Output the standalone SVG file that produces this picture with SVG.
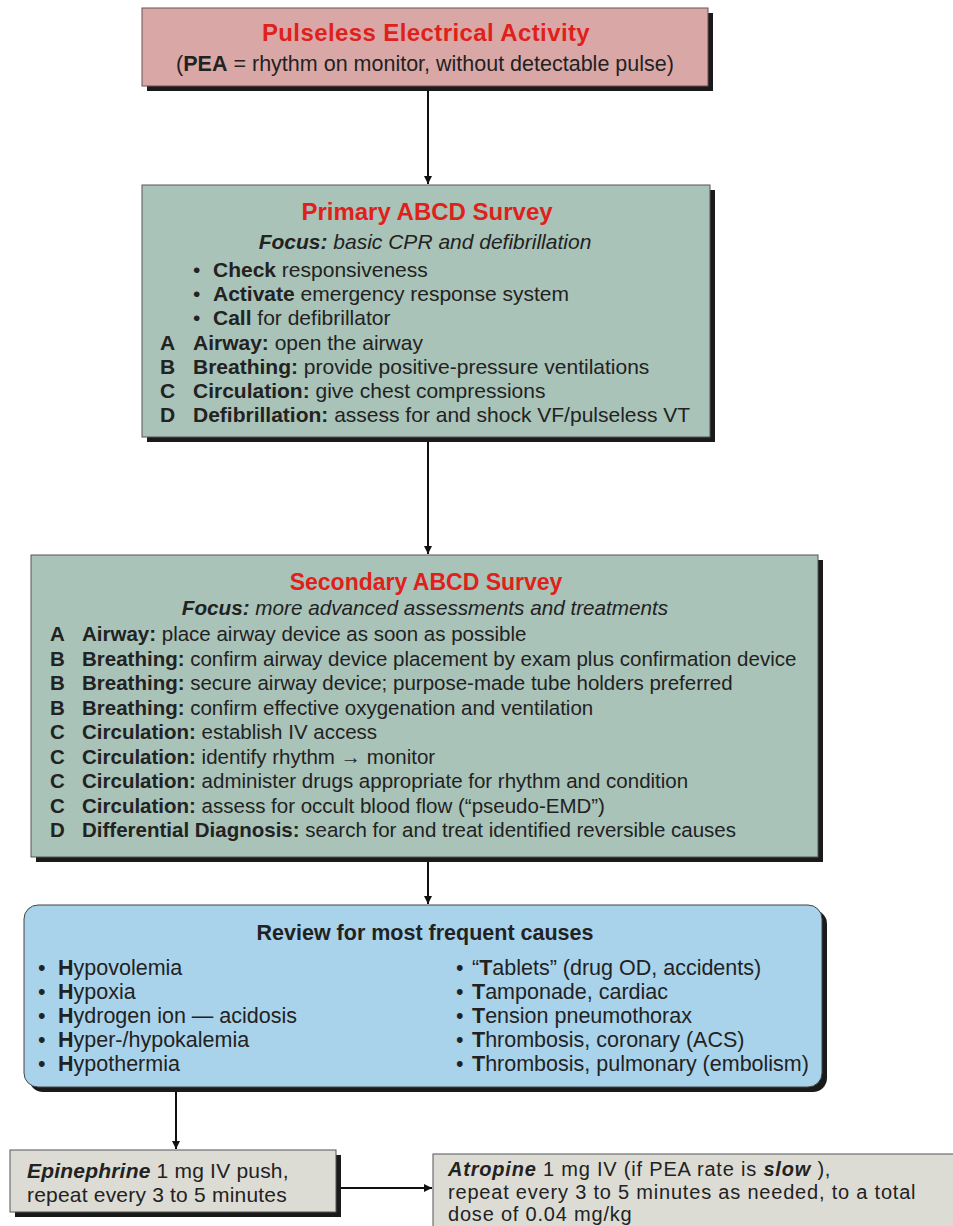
<svg xmlns="http://www.w3.org/2000/svg" width="953" height="1226" viewBox="0 0 953 1226">
<style>
text{font-family:"Liberation Sans",Arial,sans-serif;fill:#222;}
.t{font-weight:bold;fill:#e0201b;text-anchor:middle;}
.b{font-weight:bold;}
.i{font-style:italic;}
.c{text-anchor:middle;}
.p{font-size:21px;}
.s{font-size:20.5px;}
.r{font-size:21.5px;}
.shadow{fill:#1a1a1a;}
.con{stroke:#111;stroke-width:2;fill:none;marker-end:url(#ah);}
</style>
<defs>
<marker id="ah" viewBox="0 0 10 10" refX="10" refY="5" markerWidth="8" markerHeight="8" markerUnits="userSpaceOnUse" orient="auto"><path d="M0,0 L10,5 L0,10 z" fill="#111"/></marker>
</defs>
<rect width="953" height="1226" fill="#ffffff"/>

<g id="connectors">
<line class="con" x1="428" y1="90" x2="428" y2="184"/>
<line class="con" x1="428" y1="442" x2="428" y2="554"/>
<line class="con" x1="428" y1="862" x2="428" y2="904"/>
<line class="con" x1="176" y1="1092" x2="176" y2="1149"/>
<line class="con" x1="341" y1="1188" x2="432" y2="1188"/>
</g>

<g id="pea">
<rect class="shadow" x="147" y="13" width="566" height="78"/>
<rect x="142" y="8" width="566" height="78" fill="#d9a8a6" stroke="#6a5050" stroke-width="1"/>
<text class="t" x="426" y="41" font-size="24" letter-spacing="0.4">Pulseless Electrical Activity</text>
<text class="c" x="425" y="71" font-size="21.5">(<tspan class="b">PEA</tspan> = rhythm on monitor, without detectable pulse)</text>
</g>

<g id="primary">
<rect class="shadow" x="147" y="190" width="568" height="252"/>
<rect x="142" y="185" width="568" height="252" fill="#a9c3b8" stroke="#555" stroke-width="1"/>
<text class="t" x="427" y="220" font-size="24">Primary ABCD Survey</text>
<text class="i c" x="425" y="249" font-size="21"><tspan class="b">Focus:</tspan> basic CPR and defibrillation</text>
<g class="p">
<text x="193" y="277">•</text><text x="213" y="277"><tspan class="b">Check</tspan> responsiveness</text>
<text x="193" y="301">•</text><text x="213" y="301"><tspan class="b">Activate</tspan> emergency response system</text>
<text x="193" y="325">•</text><text x="213" y="325"><tspan class="b">Call</tspan> for defibrillator</text>
<text x="160" y="350" class="b">A</text><text x="193" y="350"><tspan class="b">Airway:</tspan> open the airway</text>
<text x="160" y="374" class="b">B</text><text x="193" y="374"><tspan class="b">Breathing:</tspan> provide positive-pressure ventilations</text>
<text x="160" y="398" class="b">C</text><text x="193" y="398"><tspan class="b">Circulation:</tspan> give chest compressions</text>
<text x="160" y="422" class="b">D</text><text x="193" y="422"><tspan class="b">Defibrillation:</tspan> assess for and shock VF/pulseless VT</text>
</g>
</g>

<g id="secondary">
<rect class="shadow" x="36" y="560" width="787" height="302"/>
<rect x="31" y="555" width="787" height="302" fill="#a9c3b8" stroke="#555" stroke-width="1"/>
<text class="t" x="426" y="590" font-size="23">Secondary ABCD Survey</text>
<text class="i c" x="425" y="615" font-size="20.7"><tspan class="b">Focus:</tspan> more advanced assessments and treatments</text>
<g class="s">
<text x="50" y="641" class="b">A</text><text x="82" y="641"><tspan class="b">Airway:</tspan> place airway device as soon as possible</text>
<text x="50" y="666" class="b">B</text><text x="82" y="666"><tspan class="b">Breathing:</tspan> confirm airway device placement by exam plus confirmation device</text>
<text x="50" y="690" class="b">B</text><text x="82" y="690"><tspan class="b">Breathing:</tspan> secure airway device; purpose-made tube holders preferred</text>
<text x="50" y="715" class="b">B</text><text x="82" y="715"><tspan class="b">Breathing:</tspan> confirm effective oxygenation and ventilation</text>
<text x="50" y="739" class="b">C</text><text x="82" y="739"><tspan class="b">Circulation:</tspan> establish IV access</text>
<text x="50" y="764" class="b">C</text><text x="82" y="764"><tspan class="b">Circulation:</tspan> identify rhythm <tspan class="b">→</tspan> monitor</text>
<text x="50" y="788" class="b">C</text><text x="82" y="788"><tspan class="b">Circulation:</tspan> administer drugs appropriate for rhythm and condition</text>
<text x="50" y="813" class="b">C</text><text x="82" y="813"><tspan class="b">Circulation:</tspan> assess for occult blood flow (“pseudo-EMD”)</text>
<text x="50" y="837" class="b">D</text><text x="82" y="837"><tspan class="b">Differential Diagnosis:</tspan> search for and treat identified reversible causes</text>
</g>
</g>

<g id="review">
<rect class="shadow" x="29" y="910" width="798" height="182" rx="14"/>
<rect x="24" y="905" width="798" height="182" rx="14" fill="#a9d3ea" stroke="#444" stroke-width="1"/>
<text x="425" y="940" font-size="21.5" class="b c">Review for most frequent causes</text>
<g class="r">
<text x="38" y="975">•</text><text x="58" y="975"><tspan class="b">H</tspan>ypovolemia</text>
<text x="38" y="999">•</text><text x="58" y="999"><tspan class="b">H</tspan>ypoxia</text>
<text x="38" y="1023">•</text><text x="58" y="1023"><tspan class="b">H</tspan>ydrogen ion — acidosis</text>
<text x="38" y="1047">•</text><text x="58" y="1047"><tspan class="b">H</tspan>yper-/hypokalemia</text>
<text x="38" y="1071">•</text><text x="58" y="1071"><tspan class="b">H</tspan>ypothermia</text>
<text x="456" y="975">•</text><text x="472" y="975">“<tspan class="b">T</tspan>ablets” (drug OD, accidents)</text>
<text x="456" y="999">•</text><text x="472" y="999"><tspan class="b">T</tspan>amponade, cardiac</text>
<text x="456" y="1023">•</text><text x="472" y="1023"><tspan class="b">T</tspan>ension pneumothorax</text>
<text x="456" y="1047">•</text><text x="472" y="1047"><tspan class="b">T</tspan>hrombosis, coronary (ACS)</text>
<text x="456" y="1071">•</text><text x="472" y="1071"><tspan class="b">T</tspan>hrombosis, pulmonary (embolism)</text>
</g>
</g>

<g id="epinephrine">
<rect class="shadow" x="15" y="1155" width="326" height="62"/>
<rect x="10" y="1150" width="326" height="62" fill="#dcdcd5" stroke="#555" stroke-width="1"/>
<text x="27" y="1178" font-size="21" letter-spacing="0.2"><tspan class="b i">Epinephrine</tspan> 1 mg IV push,</text>
<text x="27" y="1202" font-size="21" letter-spacing="0.2">repeat every 3 to 5 minutes</text>
</g>

<g id="atropine">
<rect x="433" y="1154" width="530" height="80" fill="#dcdcd5" stroke="#555" stroke-width="1"/>
<text x="448" y="1176" font-size="20" letter-spacing="0.8"><tspan class="b i">Atropine</tspan> 1 mg IV (if PEA rate is <tspan class="b i">slow</tspan> ),</text>
<text x="448" y="1199" font-size="20" letter-spacing="0.8">repeat every 3 to 5 minutes as needed, to a total</text>
<text x="448" y="1221" font-size="20" letter-spacing="0.8">dose of 0.04 mg/kg</text>
</g>
</svg>
